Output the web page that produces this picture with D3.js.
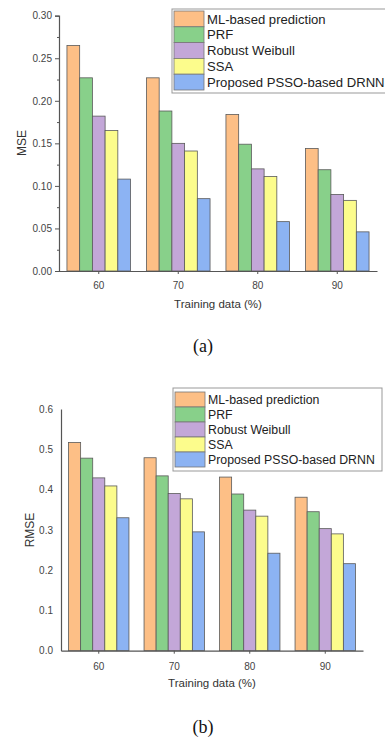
<!DOCTYPE html>
<html>
<head>
<meta charset="utf-8">
<script src="https://cdn.jsdelivr.net/npm/d3@7"></script>
<style>
  html, body { margin: 0; padding: 0; background: #fff; }
  svg { display: block; font-family: "Liberation Sans", Arial, sans-serif; }
</style>
</head>
<body>
<svg id="fig" width="385" height="738"></svg>
<script>
// data
const categories = ['60', '70', '80', '90'];
const seriesNames = ['ML-based prediction', 'PRF', 'Robust Weibull', 'SSA', 'Proposed PSSO-based DRNN'];
const seriesColors = ['#fdbf86', '#88d08a', '#c3a7d8', '#fcfc8c', '#8cb3f3'];

const mseML    = [0.265, 0.227, 0.184, 0.144];
const msePRF   = [0.227, 0.188, 0.149, 0.119];
const mseRW    = [0.182, 0.150, 0.120, 0.090];
const mseSSA   = [0.165, 0.141, 0.111, 0.083];
const msePSSO  = [0.108, 0.085, 0.058, 0.046];
const mseTicks = [0, 0.05, 0.10, 0.15, 0.20, 0.25, 0.30];

const rmseML   = [0.517, 0.479, 0.431, 0.381];
const rmsePRF  = [0.478, 0.434, 0.389, 0.345];
const rmseRW   = [0.429, 0.390, 0.349, 0.303];
const rmseSSA  = [0.409, 0.377, 0.334, 0.290];
const rmsePSSO = [0.330, 0.295, 0.242, 0.216];
const rmseTicks = [0, 0.1, 0.2, 0.3, 0.4, 0.5, 0.6];

const SANS = '"Liberation Sans", Arial, sans-serif';
const SERIF = '"Liberation Serif", "Times New Roman", serif';

const svg = d3.select('#fig');

function drawChart(cfg) {
  const g = svg.append('g');
  const series = cfg.values;

  const x = d3.scaleBand().domain(categories).range([cfg.x0, cfg.x1])
    .paddingInner(0.2).paddingOuter(0.1);
  const xs = d3.scaleBand().domain(d3.range(series.length)).range([0, x.bandwidth()]);
  const y = d3.scaleLinear().domain([0, cfg.yMax]).range([cfg.yBottom, cfg.yTop]);

  // bars
  series.forEach((vals, si) => {
    g.append('g').selectAll('rect')
      .data(vals)
      .join('rect')
      .attr('x', (d, i) => x(categories[i]) + xs(si))
      .attr('y', d => y(d))
      .attr('width', xs.bandwidth())
      .attr('height', d => y(0) - y(d))
      .attr('fill', seriesColors[si])
      .attr('stroke', '#5a5a5a')
      .attr('stroke-width', 0.8);
  });

  // y axis
  const yAxis = d3.axisLeft(y).tickValues(cfg.ticks)
    .tickFormat(cfg.fmt).tickSize(cfg.tickSize).tickPadding(cfg.tickPad);
  const ya = g.append('g').attr('transform', `translate(${cfg.x0},0)`).call(yAxis);
  ya.select('.domain').attr('stroke', '#555').attr('stroke-width', 1.2);
  ya.selectAll('.tick line').attr('stroke', '#555');
  ya.selectAll('text').attr('font-size', 10).attr('fill', '#444').attr('font-family', SANS);

  if (cfg.minor) {
    const minor = d3.range(cfg.ticks.length - 1).map(i => (cfg.ticks[i] + cfg.ticks[i + 1]) / 2);
    g.append('g').attr('transform', `translate(${cfg.x0},0)`)
      .call(d3.axisLeft(y).tickValues(minor).tickFormat('').tickSize(2))
      .call(s => s.select('.domain').remove())
      .selectAll('line').attr('stroke', '#555');
  }

  // x axis
  const xa = g.append('g').attr('transform', `translate(0,${cfg.yBottom})`)
    .call(d3.axisBottom(x).tickSize(3).tickPadding(cfg.xPad).tickSizeOuter(0));
  xa.select('.domain').attr('stroke', '#555').attr('stroke-width', 1.2);
  xa.selectAll('.tick line').attr('stroke', '#555');
  xa.selectAll('text').attr('font-size', 10).attr('fill', '#444').attr('font-family', SANS);

  // axis titles
  g.append('text')
    .attr('x', cfg.xTitleX).attr('y', cfg.xTitleY)
    .attr('text-anchor', 'middle').attr('font-size', 11.5).attr('fill', '#333')
    .text('Training data (%)');
  g.append('text')
    .attr('transform', `translate(${cfg.yTitleX},${cfg.yTitleY}) rotate(-90)`)
    .attr('text-anchor', 'middle').attr('font-size', 12).attr('fill', '#333')
    .text(cfg.yTitle);

  // legend
  const lg = g.append('g');
  lg.append('rect')
    .attr('x', cfg.leg.x).attr('y', cfg.leg.y)
    .attr('width', cfg.leg.w).attr('height', cfg.leg.h)
    .attr('fill', '#fff').attr('stroke', '#999').attr('stroke-width', 1);
  seriesNames.forEach((name, i) => {
    const top = cfg.leg.y + cfg.leg.pad + i * cfg.leg.row;
    lg.append('rect')
      .attr('x', cfg.leg.x + 2).attr('y', top)
      .attr('width', cfg.leg.sw).attr('height', cfg.leg.row)
      .attr('fill', seriesColors[i]).attr('stroke', '#777').attr('stroke-width', 0.8);
    lg.append('text')
      .attr('x', cfg.leg.x + cfg.leg.sw + 5).attr('y', top + cfg.leg.row / 2)
      .attr('dy', '0.36em').attr('font-size', cfg.leg.fs).attr('fill', '#222')
      .text(name);
  });

  // panel caption
  svg.append('text')
    .attr('x', 203).attr('y', cfg.capY)
    .attr('text-anchor', 'middle')
    .style('font-family', SERIF)
    .attr('font-size', 18).attr('fill', '#111')
    .text(cfg.caption);
}

drawChart({
  values: [mseML, msePRF, mseRW, mseSSA, msePSSO],
  yMax: 0.30, ticks: mseTicks, fmt: d3.format('.2f'),
  x0: 59, x1: 377, yTop: 15.7, yBottom: 271,
  tickSize: 4, tickPad: 3, minor: true, xPad: 8,
  xTitleX: 218, xTitleY: 308, yTitleX: 26, yTitleY: 143, yTitle: 'MSE',
  leg: { x: 172, y: 9, w: 230, h: 84, pad: 2, row: 15.8, sw: 30, fs: 13.1 },
  capY: 352, caption: '(a)'
});

drawChart({
  values: [rmseML, rmsePRF, rmseRW, rmseSSA, rmsePSSO],
  yMax: 0.6, ticks: rmseTicks, fmt: d3.format('.1f'),
  x0: 61, x1: 363, yTop: 409, yBottom: 650.7,
  tickSize: 0, tickPad: 8, minor: false, xPad: 9,
  xTitleX: 212, xTitleY: 687, yTitleX: 34, yTitleY: 530, yTitle: 'RMSE',
  leg: { x: 173, y: 388, w: 209, h: 83, pad: 4, row: 15, sw: 30, fs: 12.3 },
  capY: 733, caption: '(b)'
});
</script>
</body>
</html>
